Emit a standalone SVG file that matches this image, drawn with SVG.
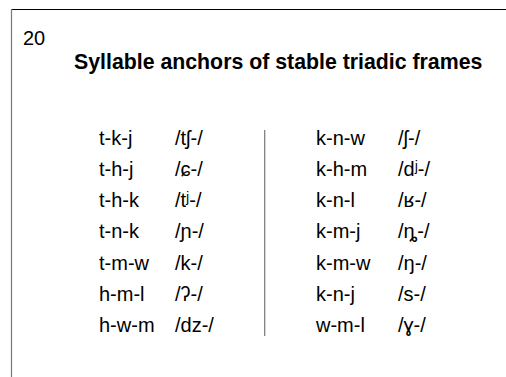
<svg xmlns="http://www.w3.org/2000/svg" width="506" height="377" viewBox="0 0 506 377">
<style>
text{font-family:"Liberation Sans","DejaVu Sans",Arial,sans-serif;fill:#000}
.t{font-size:20px}
.h{font-size:21.3px;font-weight:bold}
.n{font-size:20px}
</style>
<rect width="506" height="377" fill="#fff"/>
<g id="frame">
<line x1="11" y1="9.5" x2="506" y2="9.5" stroke="#000" stroke-width="1"/>
<line x1="11.5" y1="9" x2="11.5" y2="377" stroke="#777" stroke-width="1.2"/>
</g>
<g id="header">
<text class="n" x="23" y="45">20</text>
<text class="h" x="74" y="69">Syllable anchors of stable triadic frames</text>
</g>
<g id="connectors">
<line x1="264.7" y1="130" x2="264.7" y2="336" stroke="#777" stroke-width="1.2"/>
</g>
<g id="left">
<text class="t" x="99" y="144.5">t-k-j</text><text class="t" x="175" y="144.5">/tʃ-/</text>
<text class="t" x="99" y="175.75">t-h-j</text><text class="t" x="175" y="175.75">/ɕ-/</text>
<text class="t" x="99" y="207">t-h-k</text><text class="t" x="175" y="207">/tʲ-/</text>
<text class="t" x="99" y="238.25">t-n-k</text><text class="t" x="175" y="238.25">/ɲ-/</text>
<text class="t" x="99" y="269.5">t-m-w</text><text class="t" x="175" y="269.5">/k-/</text>
<text class="t" x="99" y="300.75">h-m-l</text><text class="t" x="175" y="300.75">/ʔ-/</text>
<text class="t" x="99" y="332">h-w-m</text><text class="t" x="175" y="332">/dz-/</text>
</g>
<g id="right">
<text class="t" x="316" y="144.5">k-n-w</text><text class="t" x="398" y="144.5">/ʃ-/</text>
<text class="t" x="316" y="175.75">k-h-m</text><text class="t" x="398" y="175.75">/dʲ-/</text>
<text class="t" x="316" y="207">k-n-l</text><text class="t" x="398" y="207">/ʁ-/</text>
<text class="t" x="316" y="238.25">k-m-j</text><text class="t" x="398" y="238.25">/ȵ-/</text>
<text class="t" x="316" y="269.5">k-m-w</text><text class="t" x="398" y="269.5">/ŋ-/</text>
<text class="t" x="316" y="300.75">k-n-j</text><text class="t" x="398" y="300.75">/s-/</text>
<text class="t" x="316" y="332">w-m-l</text><text class="t" x="398" y="332">/ɣ-/</text>
</g>
</svg>
